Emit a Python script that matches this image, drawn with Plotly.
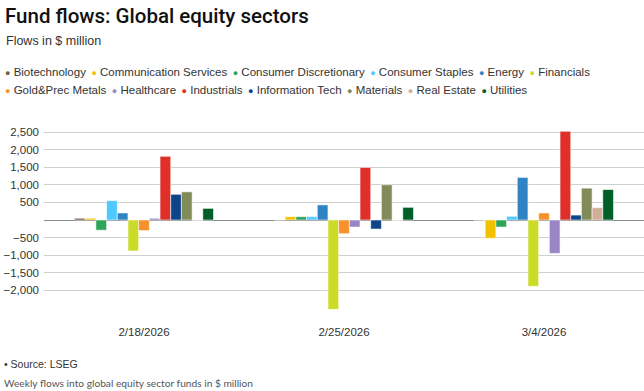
import plotly.graph_objects as go

dates = ["2/18/2026", "2/25/2026", "3/4/2026"]
sectors = ["Biotechnology", "Communication Services", "Consumer Discretionary",
           "Consumer Staples", "Energy", "Financials", "Gold&Prec Metals",
           "Healthcare", "Industrials", "Information Tech", "Materials",
           "Real Estate", "Utilities"]
colors = ["#7a5c4b", "#f2c100", "#2fa55a", "#4fc9ff", "#2f84c4", "#cbdb2a",
          "#f7912b", "#9a86c4", "#e02e29", "#0e4488", "#818a59", "#d1ae97",
          "#005f29"]

biotechnology = [50, 0, -20]
communication_services = [50, 95, -520]
consumer_discretionary = [-290, 95, -200]
consumer_staples = [550, 95, 105]
energy = [200, 430, 1210]
financials = [-880, -2540, -1885]
gold_prec_metals = [-300, -390, 200]
healthcare = [50, -200, -950]
industrials = [1810, 1495, 2520]
information_tech = [730, -257, 140]
materials = [800, 1000, 905]
real_estate = [-12, -15, 350]
utilities = [330, 360, 865]

series = [biotechnology, communication_services, consumer_discretionary,
          consumer_staples, energy, financials, gold_prec_metals, healthcare,
          industrials, information_tech, materials, real_estate, utilities]

y_ticks = [2500, 2000, 1500, 1000, 500, -500, -1000, -1500, -2000]

FONT = "Liberation Sans, Arial, sans-serif"

fig = go.Figure()
for name, vals, col in zip(sectors, series, colors):
    fig.add_trace(go.Bar(
        x=dates, y=vals, name=name, showlegend=False,
        marker=dict(color=col, line=dict(color="rgba(255,255,255,0.55)", width=1)),
    ))

fig.update_layout(
    width=644, height=391,
    margin=dict(l=44, r=0, t=125, b=76),
    barmode="group", bargap=0.305, bargroupgap=0,
    plot_bgcolor="white", paper_bgcolor="white",
    font=dict(family=FONT, color="#333333", size=12),
    showlegend=False,
    xaxis=dict(showgrid=False, showline=False, ticks="", tickfont=dict(size=11.5, color="#333333"),
               ticklabelstandoff=8),
    yaxis=dict(range=[-2700, 2700], tickvals=y_ticks, tickformat=",d",
               showgrid=True, gridcolor="#d0d0d0", gridwidth=1,
               zeroline=True, zerolinecolor="#8c8c8c", zerolinewidth=1,
               tickfont=dict(size=11.5, color="#333333"), ticklabelstandoff=4),
)

# Title and subtitle
fig.add_annotation(text="Fund flows: Global equity sectors", xref="paper", yref="paper",
                   x=0, y=0, xanchor="left", yanchor="middle", showarrow=False,
                   font=dict(family="Roboto, Liberation Sans, sans-serif", size=20.5,
                             color="#111111", weight=500))
fig.add_annotation(text="Flows in $ million", xref="paper", yref="paper",
                   x=0, y=0, xanchor="left", yanchor="middle", showarrow=False,
                   font=dict(family=FONT, size=12.5, color="#333333"))

# Legend rows (built from the series names and colours)
def legend_row(idx):
    parts = []
    for i in idx:
        parts.append('<span style="color:%s;font-size:9px">●</span> %s' % (colors[i], sectors[i]))
    return "&nbsp;\u2009".join(parts)

fig.add_annotation(text=legend_row(range(0, 6)), xref="paper", yref="paper",
                   x=0, y=0, xanchor="left", yanchor="middle", showarrow=False, align="left",
                   font=dict(family=FONT, size=11.5, color="#333333"))
fig.add_annotation(text=legend_row(range(6, 13)), xref="paper", yref="paper",
                   x=0, y=0, xanchor="left", yanchor="middle", showarrow=False, align="left",
                   font=dict(family=FONT, size=11.5, color="#333333"))

# Footer
fig.add_annotation(text="• Source: LSEG", xref="paper", yref="paper",
                   x=0, y=0, xanchor="left", yanchor="middle", showarrow=False,
                   font=dict(family=FONT, size=10.5, color="#333333"))
fig.add_annotation(text="Weekly flows into global equity sector funds in $ million",
                   xref="paper", yref="paper", x=0, y=0, xanchor="left", yanchor="middle",
                   showarrow=False,
                   font=dict(family="Lato, Roboto, sans-serif", size=10.2, color="#555555"))

# position annotations in pixel space (paper coords from pixel y)
plot_top, plot_h, plot_l, plot_w = 125, 190, 44, 600
def px_to_paper(xp, yp):
    return (xp - plot_l) / plot_w, (plot_top + plot_h - yp) / plot_h

positions = [(3, 16), (4, 41), (3, 72), (3, 90), (2, 364), (2, 383)]
for ann, (xp, yp) in zip(fig.layout.annotations, positions):
    ann.x, ann.y = px_to_paper(xp, yp)

fig.write_html("out.html", config={"displayModeBar": False},
               post_script="document.body.style.margin='0';document.body.style.overflow='hidden';")
